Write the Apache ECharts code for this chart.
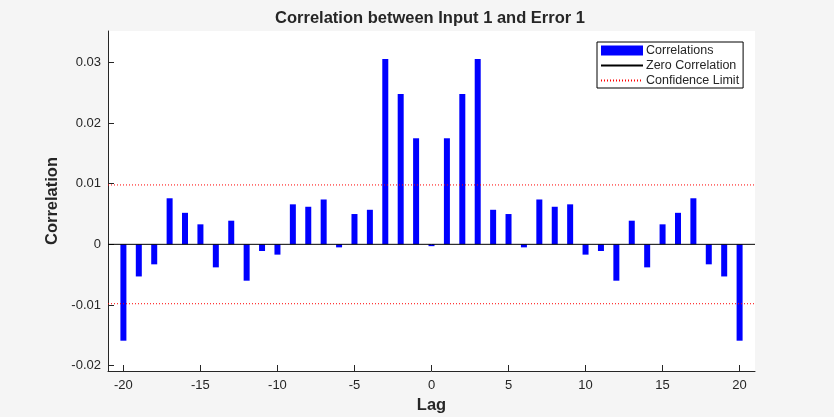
<!DOCTYPE html>
<html>
<head>
<meta charset="utf-8">
<script src="https://cdn.jsdelivr.net/npm/echarts@6/dist/echarts.min.js"></script>
<style>
  html, body { margin: 0; padding: 0; background: #f5f5f5; }
  #chart { width: 834px; height: 417px; }
</style>
</head>
<body>
<div id="chart"></div>
<script>
// lags and cross-correlation values
const lags = [-20, -19, -18, -17, -16, -15, -14, -13, -12, -11, -10, -9, -8, -7, -6, -5, -4, -3, -2, -1,
              0, 1, 2, 3, 4, 5, 6, 7, 8, 9, 10, 11, 12, 13, 14, 15, 16, 17, 18, 19, 20];
const correlations = [-0.0159, -0.0053, -0.0033, 0.0076, 0.0052, 0.0033, -0.0038, 0.0039, -0.0060, -0.0011,
                      -0.0017, 0.0066, 0.0062, 0.0074, -0.0005, 0.0050, 0.0057, 0.0306, 0.0248, 0.0175,
                      -0.0003, 0.0175, 0.0248, 0.0306, 0.0057, 0.0050, -0.0005, 0.0074, 0.0062, 0.0066,
                      -0.0017, -0.0011, -0.0060, 0.0039, -0.0038, 0.0033, 0.0052, 0.0076, -0.0033, -0.0053,
                      -0.0159];
const confLimit = 0.0098;
const xTicks = [-20, -15, -10, -5, 0, 5, 10, 15, 20];
const yTicks = [-0.02, -0.01, 0, 0.01, 0.02, 0.03];
const xRange = [-21, 21];
const yRange = [-0.0209, 0.0352];

const chart = echarts.init(document.getElementById('chart'));
const font = 'Liberation Sans, Arial, Helvetica, sans-serif';
const ink = '#262626';

const option = {
    backgroundColor: '#f5f5f5',
    animation: false,
    title: {
        text: 'Correlation between Input 1 and Error 1',
        left: 425,
        textAlign: 'center',
        top: 5,
        textStyle: { fontFamily: font, fontSize: 16.5, fontWeight: 'bold', color: ink }
    },
    grid: {
        left: 108, right: 79, top: 31, bottom: 46,
        show: true, backgroundColor: '#ffffff', borderWidth: 0,
        outerBoundsMode: 'none'
    },
    legend: {
        orient: 'vertical',
        left: 597, top: 42,
        padding: [2, 4, 1, 3],
        itemGap: 2,
        itemWidth: 42, itemHeight: 10,
        backgroundColor: '#ffffff',
        borderColor: '#000000', borderWidth: 1, borderRadius: 0,
        textStyle: { fontFamily: font, fontSize: 12.5, color: ink, padding: [0, 0, 0, -2] },
        data: [
            { name: 'Correlations', icon: 'rect' },
            { name: 'Zero Correlation', itemStyle: { opacity: 0 } },
            { name: 'Confidence Limit', itemStyle: { opacity: 0 } }
        ]
    },
    xAxis: {
        type: 'value',
        min: xRange[0], max: xRange[1],
        name: 'Lag',
        nameLocation: 'middle',
        nameGap: 22,
        nameTextStyle: { fontFamily: font, fontSize: 16.5, fontWeight: 'bold', color: ink },
        axisLine: { onZero: false, lineStyle: { color: ink, width: 1 } },
        axisTick: { inside: true, length: 6, customValues: xTicks, lineStyle: { color: ink } },
        axisLabel: { customValues: xTicks, margin: 8, fontFamily: font, fontSize: 13, color: ink },
        splitLine: { show: false }
    },
    yAxis: {
        type: 'value',
        min: yRange[0], max: yRange[1],
        name: 'Correlation',
        nameLocation: 'middle',
        nameGap: 42,
        nameTextStyle: { fontFamily: font, fontSize: 16.5, fontWeight: 'bold', color: ink },
        axisLine: { show: true, onZero: false, lineStyle: { color: ink, width: 1 } },
        axisTick: { show: true, inside: true, length: 6, customValues: yTicks, lineStyle: { color: ink } },
        axisLabel: {
            customValues: yTicks, margin: 7, fontFamily: font, fontSize: 13, color: ink,
            formatter: v => String(Math.round(v * 100) / 100)
        },
        splitLine: { show: false }
    },
    series: [
        {
            name: 'Correlations',
            type: 'bar',
            barWidth: 6,
            itemStyle: { color: '#0000ff' },
            data: lags.map((l, i) => [l, correlations[i]]),
            z: 2
        },
        {
            name: 'Zero Correlation',
            type: 'line',
            symbol: 'none',
            lineStyle: { color: '#000000', width: 1 },
            itemStyle: { color: '#000000' },
            data: [[xRange[0], 0], [xRange[1], 0]],
            z: 3
        },
        {
            name: 'Confidence Limit',
            type: 'line',
            symbol: 'none',
            lineStyle: { color: '#ff0000', width: 1, type: [1, 2] },
            itemStyle: { color: '#ff0000' },
            data: [[xRange[0], confLimit], [xRange[1], confLimit]],
            z: 3
        },
        {
            name: 'Confidence Limit',
            type: 'line',
            symbol: 'none',
            lineStyle: { color: '#ff0000', width: 1, type: [1, 2] },
            itemStyle: { color: '#ff0000' },
            data: [[xRange[0], -confLimit], [xRange[1], -confLimit]],
            z: 3
        }
    ]
};

chart.setOption(option);
</script>
</body>
</html>
